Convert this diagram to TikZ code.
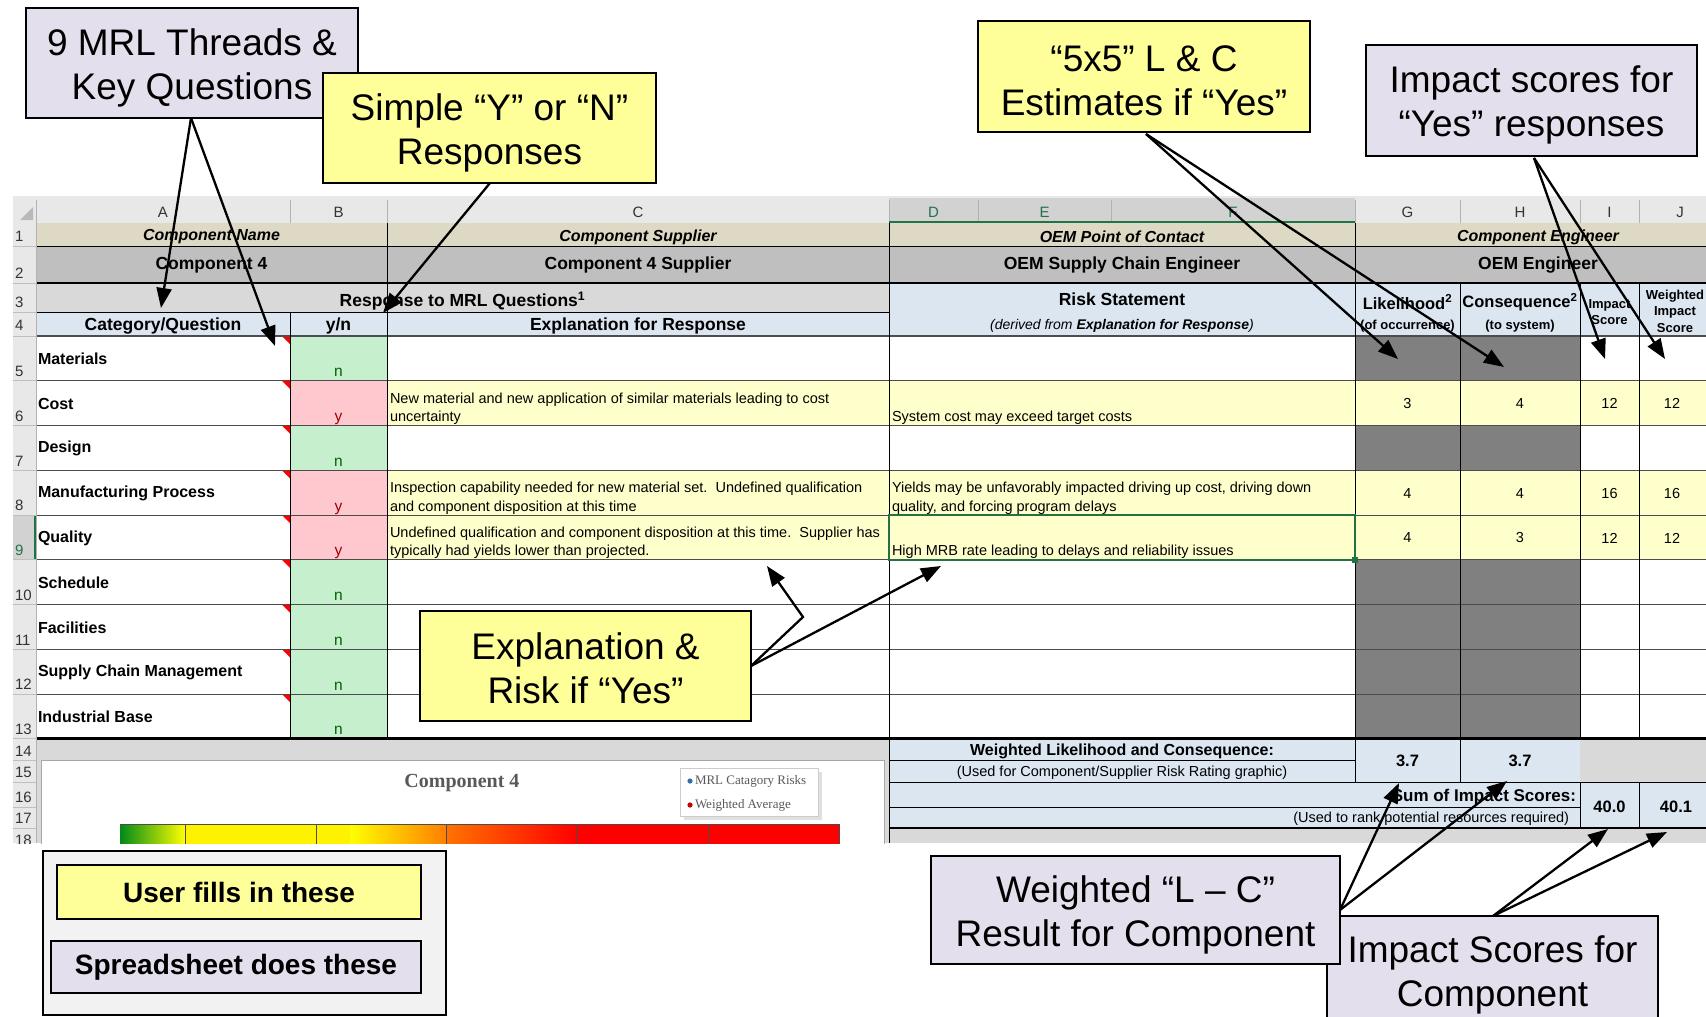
\documentclass[tikz,border=0pt]{standalone}
\usepackage{fontspec}
\setmainfont{Liberation Sans}
\newfontfamily\seriffam{Liberation Serif}
\usetikzlibrary{arrows.meta}
\newcommand\myfs[2]{\fontsize{#1}{#2}\selectfont}
\definecolor{lav}{HTML}{E4DFEC}
\definecolor{cyel}{HTML}{FFFF99}
\definecolor{dyel}{HTML}{FFFFCC}
\definecolor{tanc}{HTML}{DDD9C4}
\definecolor{hgray}{HTML}{BFBFBF}
\definecolor{lgray}{HTML}{D9D9D9}
\definecolor{lblue}{HTML}{DCE6F1}
\definecolor{ngreen}{HTML}{C6EFCE}
\definecolor{ypink}{HTML}{FFC7CE}
\definecolor{dgray}{HTML}{808080}
\definecolor{xlhead}{HTML}{E8E8E8}
\definecolor{xlsel}{HTML}{D2D2D2}
\definecolor{xlgreen}{HTML}{217346}
\definecolor{ntext}{HTML}{006100}
\definecolor{ytext}{HTML}{9C0006}
\definecolor{legbg}{HTML}{F2F2F2}
\definecolor{chtxt}{HTML}{595959}
\begin{document}
\begin{tikzpicture}[x=1pt,y=-1pt,
 every node/.style={inner sep=0pt,outer sep=0pt},
 arr/.style={line width=2.3pt,-{Triangle[length=20pt,width=15pt]}},
 callout/.style={draw=black,line width=1.6pt},
 ctext/.style={align=center,font=\myfs{37}{44}},
 legbox/.style={draw=black,line width=1.4pt,align=center,font=\bfseries\myfs{28}{32}},
 grid/.style={line width=1pt,draw=black},
 rgrid/.style={line width=1pt,draw=black!70},
 thick2/.style={line width=2.6pt,draw=black},
 rownum/.style={anchor=base west,font=\myfs{15}{17},text=black!80},
 colhd/.style={anchor=base,font=\myfs{15}{17}},
 hdone/.style={anchor=center,font=\bfseries\itshape\myfs{16}{18}},
 hdtwo/.style={anchor=center,font=\bfseries\myfs{17.5}{20}},
 cat/.style={anchor=west,font=\bfseries\myfs{16}{18}},
 dat/.style={anchor=base west,font=\myfs{14.5}{17}},
 num/.style={anchor=center,font=\myfs{14.5}{17}},
 bnum/.style={anchor=center,font=\bfseries\myfs{16.5}{18}},
 small/.style={anchor=center,align=center,font=\bfseries\myfs{13}{16.5}},
]
\useasboundingbox (0,0) rectangle (1706,1017);
\fill[white] (0,0) rectangle (1706,1017);

\begin{scope}
\clip (13,196) rectangle (1706,843);
% ---- column header band
\fill[xlhead] (13,196) rectangle (1706,223);
\fill[xlsel] (889,198) rectangle (1355,223);
\fill[gray!55] (33,207) -- (33,220) -- (20,220) -- cycle;
\foreach \x in {36,290,387,889,978,1111,1355,1460,1580,1639}
  \draw[gray!60,line width=0.8pt] (\x,200) -- (\x,223);
\draw[xlgreen,line width=2pt] (889,222) -- (1355,222);
\foreach \x/\l/\c in {163/A/black!80,338.5/B/black!80,638/C/black!80,933.5/D/xlgreen,1044.5/E/xlgreen,1233/F/xlgreen,1407.5/G/black!80,1520/H/black!80,1609.5/I/black!80,1680/J/black!80}
  \node[colhd,text=\c] (col\l) at (\x,217) {\l};

% ---- rows 1-4 fills
\fill[tanc] (36,223) rectangle (1706,246);
\fill[hgray] (36,246) rectangle (1706,283);
\fill[lgray] (36,283) rectangle (889,312);
\fill[lblue] (36,312) rectangle (889,336);
\fill[lblue] (889,283) rectangle (1706,336);

% ---- rows 5-13
\foreach \r/\lab/\bfl/\tcl/\cfl/\gfl/\yn in {%
5/Materials/ngreen/ntext/white/dgray/n,%
6/Cost/ypink/ytext/dyel/dyel/y,%
7/Design/ngreen/ntext/white/dgray/n,%
8/Manufacturing Process/ypink/ytext/dyel/dyel/y,%
9/Quality/ypink/ytext/dyel/dyel/y,%
10/Schedule/ngreen/ntext/white/dgray/n,%
11/Facilities/ngreen/ntext/white/dgray/n,%
12/Supply Chain Management/ngreen/ntext/white/dgray/n,%
13/Industrial Base/ngreen/ntext/white/dgray/n}{%
  \pgfmathsetmacro\yt{336+(\r-5)*44.75}
  \pgfmathsetmacro\yb{\yt+44.75}
  \fill[white] (36,\yt) rectangle (290,\yb);
  \fill[\bfl] (290,\yt) rectangle (387,\yb);
  \fill[\cfl] (387,\yt) rectangle (1355,\yb);
  \fill[\gfl] (1355,\yt) rectangle (1580,\yb);
  \fill[\cfl] (1580,\yt) rectangle (1706,\yb);
  \fill[red] (282,\yt) -- (290,\yt) -- (290,\yt+8) -- cycle;
  \node[cat] (cat\r) at (38,\yt+23) {\lab};
  \node[anchor=base,font=\myfs{15.5}{17},text=\tcl] (yn\r) at (338.5,\yb-4) {\yn};
}

% ---- rows 14-18
\fill[lgray] (36,738.75) rectangle (889,843);
\fill[white] (41,760) rectangle (884,860);
\draw[gray!70,line width=1pt] (41,860) -- (41,760) -- (884,760) -- (884,860);
\fill[lblue] (889,738.75) rectangle (1580,828);
\fill[lblue] (1580,782) rectangle (1706,828);
\fill[lgray] (1580,738.75) rectangle (1706,782);
\fill[lgray] (889,828) rectangle (1706,843);

% chart
\node[font=\seriffam\bfseries\myfs{20}{22},text=chtxt] (ctitle) at (462,783) {Component 4};
\fill[black!12] (684,772) rectangle (822,820);
\filldraw[fill=white,draw=gray!40,line width=0.8pt] (680,768) rectangle (818,816);
\fill[blue!50!cyan!60!black!80] (690,781) circle (2.6);
\fill[red!80!black] (690,805) circle (2.6);
\node[anchor=west,font=\seriffam\myfs{13}{15},text=chtxt] (leg1) at (695,781) {MRL Catagory Risks};
\node[anchor=west,font=\seriffam\myfs{13}{15},text=chtxt] (leg2) at (695,805) {Weighted Average};
\shade[left color=green!60!black!90!blue, right color=yellow] (120,824) rectangle (185,850);
\fill[yellow] (185,824) rectangle (446,850);
\shade[left color=yellow, right color=orange] (350,824) rectangle (446,850);
\shade[left color=orange!90!red, right color=red] (446,824) rectangle (577,850);
\fill[red] (577,824) rectangle (839,850);
\draw[black!70,line width=1pt] (120,824) -- (839,824) -- (839,850);
\foreach \x in {185,316,446,577,708} \draw[black!70,line width=1pt] (\x,824) -- (\x,850);

% ---- grid lines
\draw[grid] (36,246) -- (1706,246);
\draw[grid] (36,312) -- (889,312);
\draw[rgrid,line width=1.8pt] (36,336) -- (1706,336);
\foreach \i in {1,...,8} {
  \pgfmathsetmacro\yy{336+\i*44.75}
  \draw[rgrid] (36,\yy) -- (1706,\yy);
}
\draw[grid] (387,223) -- (387,738.75);
\draw[grid] (889,223) -- (889,843);
\draw[grid] (1355,223) -- (1355,782);
\draw[grid] (290,312) -- (290,738.75);
\draw[grid] (1460,283) -- (1460,782);
\draw[grid] (1580,283) -- (1580,738.75);
\draw[grid] (1580,782) -- (1580,828);
\draw[grid] (1639,283) -- (1639,738.75);
\draw[grid] (1639,782) -- (1639,828);
\draw[grid] (889,760) -- (1355,760);
\draw[grid] (889,782) -- (1706,782);
\draw[grid] (889,807) -- (1580,807);
\draw[thick2] (36,283) -- (1706,283);
\draw[thick2] (36,738.75) -- (1706,738.75);
\draw[thick2] (889,828) -- (1706,828);
% selection
\draw[xlgreen,line width=2pt] (889,515) rectangle (1355,559.75);
\fill[xlgreen] (1352,556.75) rectangle (1358,562.75);

% ---- row number column
\fill[xlhead] (13,223) rectangle (36,843);
\fill[xlsel] (13,515) rectangle (36,559.75);
\draw[gray!60,line width=0.8pt] (36,223) -- (36,843);
\draw[xlgreen,line width=1.5pt] (35,515) -- (35,559.75);
\foreach \y in {246,283,312,336,380.75,425.5,470.25,515,559.75,604.5,649.25,694,738.75,760,782,807,828}
  \draw[gray!50,line width=0.8pt] (13,\y) -- (36,\y);
\foreach \n/\y in {1/241,2/278,3/307,4/330,5/376.5,6/421,7/466,8/510.5,10/600,11/645,12/689.5,13/734,14/756,15/777,16/802,17/823,18/845}
  \node[rownum] (rn\n) at (15,\y) {\n};
\node[rownum,text=xlgreen] (rn9) at (15,555.5) {9};

% ---- header texts
\node[hdone] (h1a) at (211.5,237) {Component Name};
\node[hdone] (h1c) at (638,237) {Component Supplier};
\node[hdone] (h1d) at (1122,237) {OEM Point of Contact};
\node[hdone] (h1g) at (1538,237) {Component Engineer};
\node[hdtwo] (h2a) at (211.5,265) {Component 4};
\node[hdtwo] (h2c) at (638,265) {Component 4 Supplier};
\node[hdtwo] (h2d) at (1122,265) {OEM Supply Chain Engineer};
\node[hdtwo] (h2g) at (1538,265) {OEM Engineer};
\node[hdtwo] (h3a) at (462.5,301) {Response to MRL Questions\textsuperscript{1}};
\node[hdtwo] (h4a) at (163,326) {Category/Question};
\node[hdtwo] (h4b) at (338.5,326) {y/n};
\node[hdtwo] (h4c) at (638,326) {Explanation for Response};
\node[hdtwo] (h3d) at (1122,299) {Risk Statement};
\node[anchor=center,font=\itshape\myfs{14}{16}] (h4d) at (1122,326) {(derived from \textbf{Explanation for Response})};
\node[anchor=center,font=\bfseries\myfs{16.5}{18}] (h3g) at (1407.5,302) {Likelihood\textsuperscript{2}};
\node[anchor=center,font=\bfseries\myfs{13}{15}] (h4g) at (1407.5,326) {(of occurrence)};
\node[anchor=center,font=\bfseries\myfs{16.5}{18}] (h3h) at (1520,302) {Consequence\textsuperscript{2}};
\node[anchor=center,font=\bfseries\myfs{13}{15}] (h4h) at (1520,326) {(to system)};
\node[small] (h3i) at (1609.5,312) {Impact\\Score};
\node[small] (h3j) at (1675,311) {Weighted\\Impact\\Score};

% ---- data texts
\node[dat] (c6a) at (390,403) {New material and new application of similar materials leading to cost};
\node[dat] (c6b) at (390,421.5) {uncertainty};
\node[dat] (d6) at (892,421.5) {System cost may exceed target costs};
\node[dat] (c8a) at (390,492.5) {Inspection capability needed for new material set.\ \ Undefined qualification};
\node[dat] (c8b) at (390,511) {and component disposition at this time};
\node[dat] (d8a) at (892,492.5) {Yields may be unfavorably impacted driving up cost, driving down};
\node[dat] (d8b) at (892,511) {quality, and forcing program delays};
\node[dat] (c9a) at (390,537) {Undefined qualification and component disposition at this time.\ \ Supplier has};
\node[dat] (c9b) at (390,555.5) {typically had yields lower than projected.};
\node[dat] (d9) at (892,555.5) {High MRB rate leading to delays and reliability issues};
\foreach \r/\g/\h/\i/\j in {6/3/4/12/12,8/4/4/16/16,9/4/3/12/12}{
  \pgfmathsetmacro\ym{336+(\r-5)*44.75+23}
  \node[num] (g\r) at (1407.5,\ym) {\g};
  \node[num] (hh\r) at (1520,\ym) {\h};
  \node[num] (i\r) at (1609.5,\ym) {\i};
  \node[num] (j\r) at (1672,\ym) {\j};
}
\node[anchor=center,font=\bfseries\myfs{16}{18}] (wlc) at (1122,751) {Weighted Likelihood and Consequence:};
\node[anchor=center,font=\myfs{14.5}{17}] (wlcu) at (1122,773) {(Used for Component/Supplier Risk Rating graphic)};
\node[bnum] (g14) at (1407.5,761) {3.7};
\node[bnum] (h14) at (1520,761) {3.7};
\node[anchor=east,font=\bfseries\myfs{17}{19}] (sis) at (1576,797) {Sum of Impact Scores:};
\node[anchor=east,font=\myfs{14.5}{17}] (sisu) at (1569,819) {(Used to rank potential resources required)};
\node[bnum] (i16) at (1609.5,807) {40.0};
\node[bnum] (j16) at (1676,807) {40.1};
\end{scope}

% ---- legend
\node[draw=black,line width=1.4pt,fill=legbg,minimum width=403pt,minimum height=164pt] (legend) at (244.5,933) {};
\node[legbox,fill=cyel,minimum width=364pt,minimum height=54pt] (userbox) at (239,892) {User fills in these};
\node[legbox,fill=lav,minimum width=370pt,minimum height=52pt] (sheetbox) at (236,967) {Spreadsheet does these};

% ---- callouts
\node[callout,fill=lav,minimum width=332pt,minimum height=110pt] (mrl) at (192,63) {};
\node[ctext] (mrlT) at ([yshift=-4.5pt]mrl.center) {9 MRL Threads \&\\Key Questions};
\node[callout,fill=cyel,minimum width=333pt,minimum height=110pt] (simple) at (489.5,128) {};
\node[ctext] (simpleT) at ([yshift=-4.5pt]simple.center) {Simple “Y” or “N”\\Responses};
\node[callout,fill=cyel,minimum width=332pt,minimum height=111pt] (fivex) at (1144,76.5) {};
\node[ctext] (fivexT) at ([yshift=-4.5pt]fivex.center) {“5x5” L \& C\\Estimates if “Yes”};
\node[callout,fill=lav,minimum width=331pt,minimum height=111pt] (impact) at (1531.5,100.5) {};
\node[ctext] (impactT) at ([yshift=-4.5pt]impact.center) {Impact scores for\\“Yes” responses};
\node[callout,fill=cyel,minimum width=331pt,minimum height=110pt] (expl) at (585.5,666) {};
\node[ctext] (explT) at ([yshift=-2pt]expl.center) {Explanation \&\\Risk if “Yes”};
\node[callout,fill=lav,minimum width=331pt,minimum height=112pt] (impcomp) at (1492.5,972) {};
\node[ctext] (impcompT) at ([yshift=-2.5pt]impcomp.center) {Impact Scores for\\Component};
\node[callout,fill=lav,minimum width=409pt,minimum height=108pt] (weighted) at (1135.5,910) {};
\node[ctext] (weightedT) at ([yshift=-4.5pt]weighted.center) {Weighted “L – C”\\Result for Component};

% ---- arrows
\coordinate (mrlS) at (191,118);
\coordinate (tA3) at (161,308);
\coordinate (tA5) at (275,346);
\draw[arr] (mrlS) -- (tA3);
\draw[arr] (mrlS) -- (tA5);
\coordinate (simS) at (490,183);
\coordinate (tB4) at (383,313);
\draw[arr] (simS) -- (tB4);
\coordinate (fiveS) at (1146,134);
\coordinate (tG5) at (1398,359);
\coordinate (tH5) at (1504,367);
\draw[arr] (fiveS) -- (tG5);
\draw[arr] (fiveS) -- (tH5);
\coordinate (impS) at (1534,158);
\coordinate (tI5) at (1605,359);
\coordinate (tJ5) at (1665,359);
\draw[arr] (impS) -- (tI5);
\draw[arr] (impS) -- (tJ5);
\coordinate (explS) at (751,666);
\coordinate (explK) at (803,617);
\coordinate (tC9) at (767,566);
\coordinate (tD9) at (941,566);
\draw[arr] (explS) -- (explK) -- (tC9);
\draw[arr] (explS) -- (tD9);
\coordinate (wS) at (1340,910);
\coordinate (tG14) at (1399,783);
\coordinate (tH14) at (1507,781);
\draw[arr] (wS) -- (tG14);
\draw[arr] (wS) -- (tH14);
\coordinate (icS) at (1493,916);
\coordinate (tI16) at (1608,829);
\coordinate (tJ16) at (1667,832);
\draw[arr] (icS) -- (tI16);
\draw[arr] (icS) -- (tJ16);
\end{tikzpicture}
\end{document}
